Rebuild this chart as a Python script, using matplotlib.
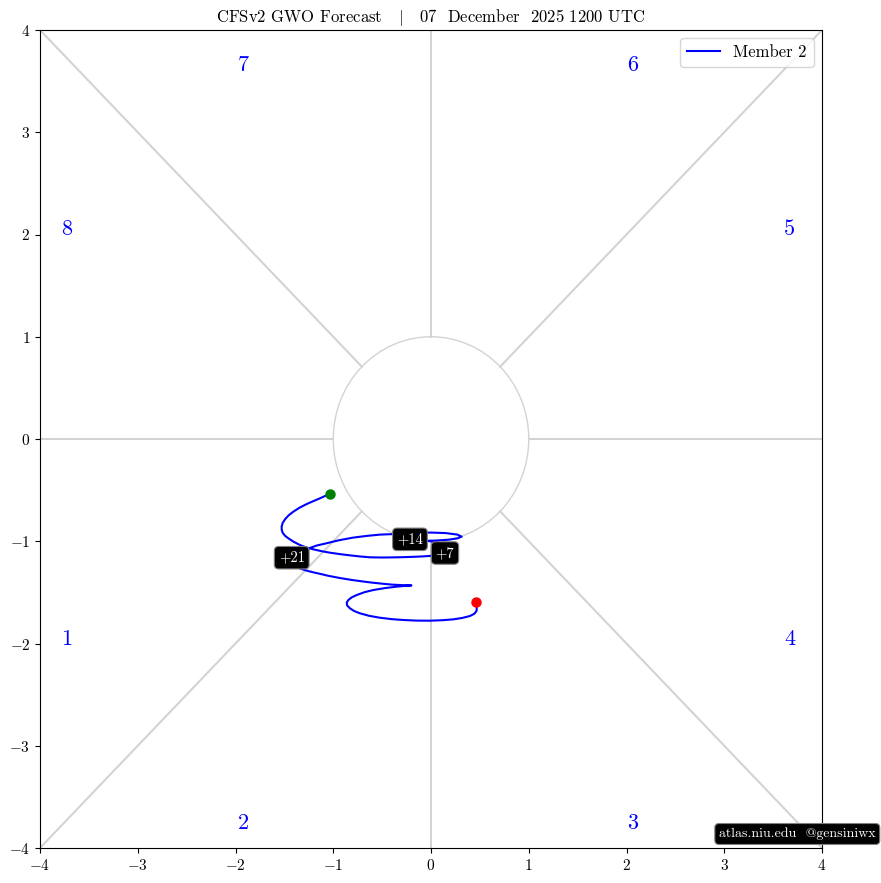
import numpy as np
import matplotlib
matplotlib.use("Agg")
import matplotlib.pyplot as plt
from matplotlib.patches import Circle

plt.rcParams['font.family'] = ['cmr10', 'DejaVu Serif']
plt.rcParams['mathtext.fontset'] = 'cm'
plt.rcParams['axes.formatter.use_mathtext'] = True

# GWO track, member 2
track_x = [-1.033, -1.085, -1.136, -1.200, -1.272, -1.345, -1.409, -1.458, -1.494, -1.518,
           -1.528, -1.527, -1.518, -1.495, -1.460, -1.405, -1.340, -1.275, -1.204, -1.120,
           -1.033, -0.930, -0.829, -0.724, -0.624, -0.510, -0.400, -0.300, -0.200, -0.100,
           0.000, 0.120, 0.160, 0.100, -0.020, -0.070, 0.050, 0.180, 0.270, 0.314,
           0.270, 0.150, 0.000, -0.200, -0.386, -0.520, -0.660, -0.800, -0.940, -1.070,
           -1.170, -1.250, -1.320, -1.380, -1.420, -1.400, -1.330, -1.270, -1.200, -1.120,
           -1.050, -0.930, -0.800, -0.700, -0.600, -0.500, -0.400, -0.300, -0.200, -0.280,
           -0.351, -0.470, -0.590, -0.680, -0.760, -0.810, -0.846, -0.862, -0.858, -0.829,
           -0.785, -0.726, -0.630, -0.522, -0.400, -0.283, -0.150, -0.010, 0.120, 0.228,
           0.320, 0.399, 0.445, 0.467, 0.468, 0.457]
track_y = [-0.541, -0.558, -0.580, -0.606, -0.636, -0.672, -0.711, -0.748, -0.786, -0.822,
           -0.857, -0.888, -0.916, -0.945, -0.971, -1.005, -1.037, -1.060, -1.079, -1.097,
           -1.112, -1.126, -1.138, -1.149, -1.157, -1.159, -1.158, -1.156, -1.153, -1.149,
           -1.143, -1.125, -1.080, -1.020, -0.998, -0.996, -0.993, -0.985, -0.972, -0.955,
           -0.935, -0.920, -0.915, -0.920, -0.930, -0.935, -0.948, -0.965, -0.990, -1.020,
           -1.042, -1.070, -1.098, -1.130, -1.170, -1.230, -1.270, -1.288, -1.305, -1.322,
           -1.338, -1.360, -1.380, -1.393, -1.405, -1.415, -1.424, -1.429, -1.432, -1.438,
           -1.444, -1.458, -1.477, -1.498, -1.526, -1.548, -1.575, -1.600, -1.628, -1.656,
           -1.683, -1.705, -1.730, -1.748, -1.762, -1.770, -1.776, -1.777, -1.772, -1.764,
           -1.750, -1.731, -1.708, -1.679, -1.640, -1.597]

lead_labels = ['+7', '+14', '+21']
lead_x = [0.143, -0.215, -1.425]
lead_y = [-1.115, -0.981, -1.161]

phase_names = ['1', '2', '3', '4', '5', '6', '7', '8']
phase_x = [-3.73, -1.92, 2.06, 3.67, 3.67, 2.06, -1.92, -3.73]
phase_y = [-1.96, -3.76, -3.76, -1.96, 2.05, 3.66, 3.66, 2.05]

fig = plt.figure(figsize=(8.81, 8.83), dpi=100)
ax = fig.add_axes([40 / 881, 35 / 883, 782 / 881, 818 / 883])

# octant lines
for ang in np.arange(0, 360, 45):
    a = np.deg2rad(ang)
    r_out = 4 / max(abs(np.cos(a)), abs(np.sin(a)))
    ax.plot([np.cos(a), r_out * np.cos(a)], [np.sin(a), r_out * np.sin(a)],
            color='lightgray', lw=1.5, zorder=1)
ax.add_patch(Circle((0, 0), 1, fill=False, edgecolor='lightgray', lw=1, zorder=1))

for name, px, py in zip(phase_names, phase_x, phase_y):
    ax.text(px, py, name, color='blue', fontsize=16, ha='center', va='center')

ax.plot(track_x, track_y, color='blue', lw=1.5, label='Member 2', zorder=3)
ax.plot(track_x[0], track_y[0], 'o', color='green', ms=6.5, zorder=4)
ax.plot(track_x[-1], track_y[-1], 'o', color='red', ms=6.5, zorder=4)

for lab, lx, ly in zip(lead_labels, lead_x, lead_y):
    ax.text(lx, ly, lab, color='white', fontsize=10.5, ha='center', va='center', zorder=5,
            bbox=dict(boxstyle='round,pad=0.3', facecolor='black', edgecolor='gray', lw=0.8))

ax.set_xlim(-4, 4)
ax.set_ylim(-4, 4)
ax.set_xticks(range(-4, 5))
ax.set_yticks(range(-4, 5))
ax.tick_params(labelsize=11)
ax.set_title(r'CFSv2 GWO Forecast   $|$   07  December  2025 1200 UTC', fontsize=12, pad=6)
ax.legend(loc='upper right', fontsize=12, handlelength=2.0)

fig.text(0.905, 0.0555, 'atlas.niu.edu  @gensiniwx', color='white', fontsize=10,
         ha='center', va='center',
         bbox=dict(boxstyle='round,pad=0.3', facecolor='black', edgecolor='gray', lw=0.8))

fig.savefig('out.png', dpi=100)
